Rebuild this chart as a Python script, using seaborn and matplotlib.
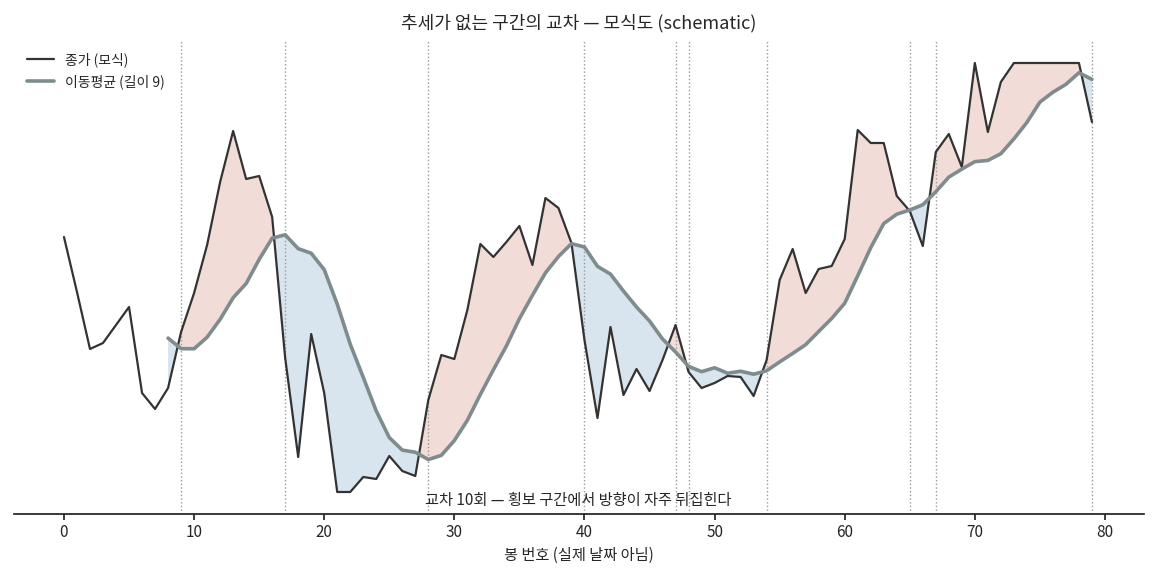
import numpy as np
import pandas as pd
import matplotlib
matplotlib.use("Agg")
import matplotlib.pyplot as plt
import seaborn as sns

sns.set_theme(style="white")
plt.rcParams['font.family'] = ['Noto Sans CJK KR', 'DejaVu Sans']

close_px = [237, 292, 349, 343, 325, 307, 393, 409, 388, 332,
            293, 245, 182, 131, 179, 176, 217, 358, 457, 334,
            393, 492, 492, 477, 479, 456, 471, 476, 400, 355,
            359, 310, 244, 257, 242, 226, 265, 198, 208, 243,
            340, 418, 327, 395, 369, 391, 360, 325, 372, 388,
            383, 376, 377, 396, 360, 280, 249, 293, 269, 266,
            239, 130, 143, 143, 196, 211, 246, 152, 134, 167,
            63, 132, 82, 63, 63, 63, 63, 63, 63, 122]
close = 500 - np.array(close_px, dtype=float)
bars = np.arange(len(close))
ma = pd.Series(close).rolling(9).mean().to_numpy()

fig = plt.figure(figsize=(11.57, 5.84), dpi=100)
ax = fig.add_axes([14/1157, 1-514/584, 1130/1157, 474/584])

valid = ~np.isnan(ma)
x = bars[valid]; c = close[valid]; m = ma[valid]
ax.fill_between(x, c, m, where=c >= m, interpolate=True, color='#f2dcd8', lw=0)
ax.fill_between(x, c, m, where=c <= m, interpolate=True, color='#d8e4ee', lw=0)

diff = np.sign(c - m)
cross = [x[i] for i in range(1, len(x)) if diff[i] != diff[i-1]]
for cx in cross:
    ax.axvline(cx, color='#999999', ls=':', lw=1)

sns.lineplot(x=bars, y=close, ax=ax, color='#333333', lw=1.6, label='종가 (모식)')
sns.lineplot(x=bars, y=ma, ax=ax, color='#7f8c8d', lw=2.6, label='이동평균 (길이 9)')

ax.text(39.5, -1, f'교차 {len(cross)}회 — 횡보 구간에서 방향이 자주 뒤집힌다',
        ha='center', va='center', fontsize=11)

ax.set_xlim(-3.84, 83.0)
ax.set_ylim(-14, 460)
ax.set_yticks([])
ax.set_xticks(range(0, 81, 10))
ax.tick_params(axis='x', labelsize=11, bottom=True, length=4)
for s in ['top', 'right', 'left']:
    ax.spines[s].set_visible(False)
ax.spines['bottom'].set_color('#222222')
ax.set_xlabel('봉 번호 (실제 날짜 아님)', fontsize=11)
ax.set_ylabel('')
ax.set_title('추세가 없는 구간의 교차 — 모식도 (schematic)', fontsize=13, pad=8)
ax.legend(loc='upper left', frameon=False, fontsize=10, bbox_to_anchor=(0.0, 1.0))
fig.savefig('out.png', dpi=100)
